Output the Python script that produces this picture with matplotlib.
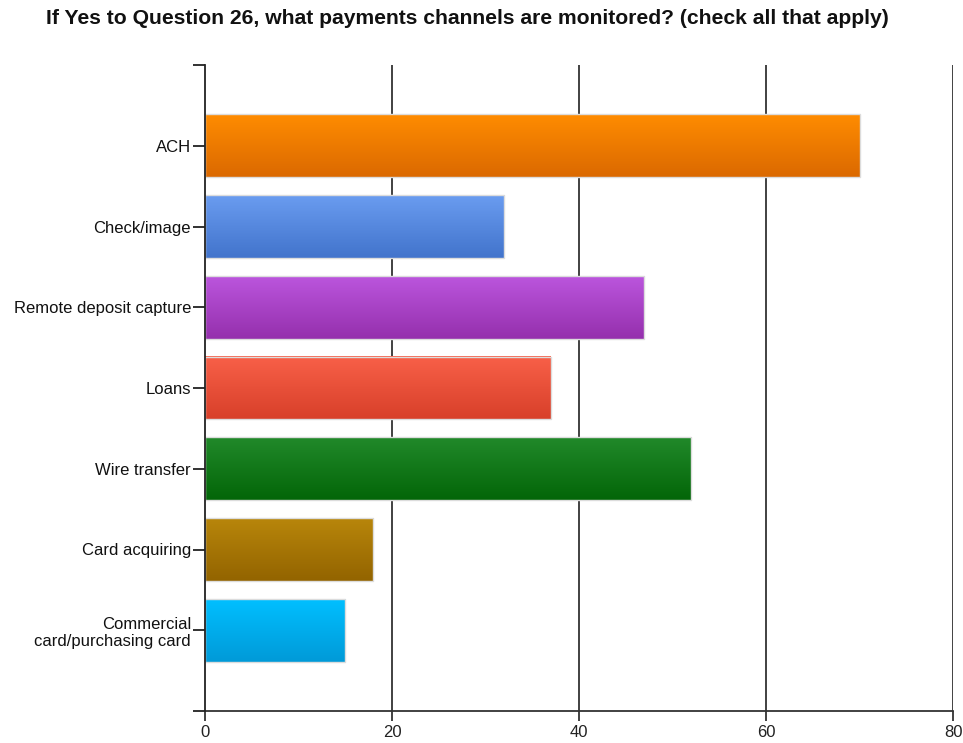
import matplotlib
matplotlib.use("Agg")
import matplotlib.pyplot as plt
import numpy as np
from matplotlib.colors import LinearSegmentedColormap

plt.rcParams["font.family"] = ["Liberation Sans", "DejaVu Sans"]

title = "If Yes to Question 26, what payments channels are monitored? (check all that apply)"
categories = [
    "ACH",
    "Check/image",
    "Remote deposit capture",
    "Loans",
    "Wire transfer",
    "Card acquiring",
    "Commercial\ncard/purchasing card",
]
values = [70, 32, 47, 37, 52, 18, 15]
# gradient colours for each bar: (top, bottom)
top_colors = ["#ff8c00", "#6a9cf0", "#bb55dd", "#f86048", "#21892a", "#b8860b", "#00bfff"]
bottom_colors = ["#db6900", "#4274cc", "#9530ad", "#d8402a", "#036608", "#936400", "#009ad8"]
x_ticks = [0, 20, 40, 60, 80]

fig = plt.figure(figsize=(9.63, 7.43), dpi=100)
ax = fig.add_axes([205 / 963, 32 / 743, 748 / 963, 646 / 743])

n = len(categories)
bar_h = 0.78

for i, (val, c_top, c_bot) in enumerate(zip(values, top_colors, bottom_colors)):
    y = i + 1
    cmap = LinearSegmentedColormap.from_list(f"bar{i}", [c_top, c_bot])
    grad = np.linspace(0, 1, 64).reshape(-1, 1)
    ax.imshow(grad, cmap=cmap, aspect="auto", interpolation="bilinear",
              extent=(0, val, y + bar_h / 2, y - bar_h / 2), zorder=3)
    ax.barh(y, val, height=bar_h, facecolor="none", edgecolor="#dcdcdc",
            linewidth=1.0, zorder=4)

ax.set_xlim(0, 80)
ax.set_ylim(n + 1, 0)

# vertical grid lines behind the bars
for xv in x_ticks[1:]:
    ax.axvline(xv, color="#333333", linewidth=1.3, zorder=1)

ax.set_xticks(x_ticks)
ax.set_xticklabels([str(v) for v in x_ticks], fontsize=12, color="#222222")
ax.tick_params(axis="x", direction="out", length=7, width=1.3, color="#333333", pad=3)

ax.set_yticks([0] + list(range(1, n + 1)) + [n + 1])
ax.set_yticklabels([""] + categories + [""], fontsize=12, color="#111111",
                   linespacing=1.15)
ax.tick_params(axis="y", direction="out", length=9, width=1.3, color="#222222", pad=1)

for side in ["top", "right"]:
    ax.spines[side].set_visible(False)
ax.spines["left"].set_color("#222222")
ax.spines["left"].set_linewidth(1.3)
ax.spines["bottom"].set_color("#333333")
ax.spines["bottom"].set_linewidth(1.3)
ax.spines["left"].set_zorder(5)

fig.text(0.4855, 0.975, title, ha="center", va="center", fontsize=15.2,
         fontweight="bold", color="#111111")

fig.savefig("out.png", dpi=100)
